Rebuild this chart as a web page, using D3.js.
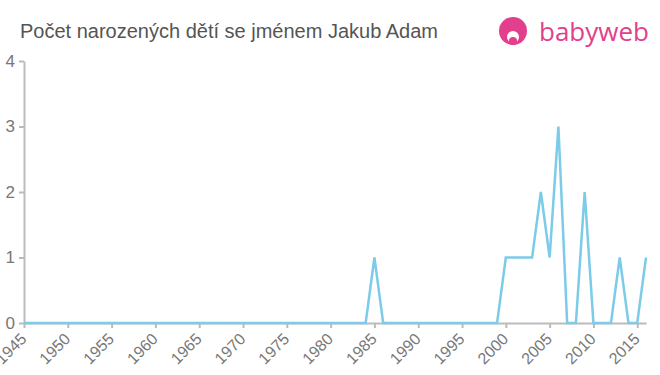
<html>
<head>
  <meta charset="utf-8">
  <title>Jakub Adam</title>
  <script src="https://d3js.org/d3.v7.min.js"></script>
  <style>
    body { margin: 0; background: #fff; }
    text { font-family: "Liberation Sans", Arial, sans-serif; }
  </style>
</head>
<body>
<div id="chart"></div>
<script>
// data
var startYear = 1945
var endYear = 2016
var counts = [
  0, 0, 0, 0, 0, 0, 0, 0, 0, 0,   // 1945-1954
  0, 0, 0, 0, 0, 0, 0, 0, 0, 0,   // 1955-1964
  0, 0, 0, 0, 0, 0, 0, 0, 0, 0,   // 1965-1974
  0, 0, 0, 0, 0, 0, 0, 0, 0, 0,   // 1975-1984
  1, 0, 0, 0, 0, 0, 0, 0, 0, 0,   // 1985-1994
  0, 0, 0, 0, 0, 1, 1, 1, 1, 2,   // 1995-2004
  1, 3, 0, 0, 2, 0, 0, 0, 1, 0,   // 2005-2014
  0, 1                            // 2015-2016
]
var yTicks = [0, 1, 2, 3, 4]
var xTicks = [1945, 1950, 1955, 1960, 1965, 1970, 1975, 1980, 1985, 1990, 1995, 2000, 2005, 2010, 2015]
var title = "Počet narozených dětí se jménem Jakub Adam"

var width = 660, height = 375
var margin = {top: 61, right: 14, bottom: 52, left: 24}

var svg = d3.select("#chart").append("svg")
  .attr("width", width)
  .attr("height", height)

var data = counts.map(function(v, i) { return {year: startYear + i, value: v} })

var x = d3.scaleLinear().domain([startYear, endYear]).range([margin.left, width - margin.right])
var y = d3.scaleLinear().domain([0, 4]).range([height - margin.bottom, margin.top])

// title
svg.append("text")
  .attr("x", 20).attr("y", 38)
  .attr("fill", "#555")
  .style("font-size", "20px")
  .text(title)

// logo
var logo = svg.append("g")
logo.append("circle").attr("cx", 513).attr("cy", 31).attr("r", 14).attr("fill", "#e2408c")
logo.append("circle").attr("cx", 513).attr("cy", 37).attr("r", 6).attr("fill", "#fff")
logo.append("circle").attr("cx", 513).attr("cy", 41).attr("r", 4).attr("fill", "#e2408c")
logo.append("text")
  .attr("x", 539).attr("y", 41)
  .attr("fill", "#e2408c")
  .style("font-size", "26px")
  .style("font-family", "'Open Sans', sans-serif")
  .text("babyweb")

// x axis
var xAxis = svg.append("g")
  .attr("transform", "translate(0," + y(0) + ")")
  .call(d3.axisBottom(x).tickValues(xTicks).tickFormat(d3.format("d")).tickSize(5).tickSizeOuter(0))
xAxis.select(".domain").attr("stroke", "#bbb").attr("stroke-width", 2)
xAxis.selectAll(".tick line").attr("stroke", "#bbb").attr("stroke-width", 2)
xAxis.selectAll(".tick text")
  .attr("fill", "#777")
  .style("font-size", "16px")
  .attr("text-anchor", "end")
  .attr("x", 0).attr("y", 0)
  .attr("dy", "0.35em")
  .attr("transform", "translate(-1,13) rotate(-45)")

// y axis
var yAxis = svg.append("g")
  .attr("transform", "translate(" + margin.left + ",0)")
  .call(d3.axisLeft(y).tickValues(yTicks).tickFormat(d3.format("d")).tickSize(5).tickSizeOuter(0))
yAxis.select(".domain").attr("stroke", "#bbb").attr("stroke-width", 2)
yAxis.selectAll(".tick line").attr("stroke", "#bbb").attr("stroke-width", 2)
yAxis.selectAll(".tick text")
  .attr("fill", "#777")
  .style("font-size", "17px")
  .attr("x", -9)

// line
var line = d3.line()
  .x(function(d) { return x(d.year) })
  .y(function(d) { return y(d.value) })

svg.append("path")
  .datum(data)
  .attr("d", line)
  .attr("fill", "none")
  .attr("stroke", "#7ccbe8")
  .attr("stroke-width", 2.5)
</script>
</body>
</html>
